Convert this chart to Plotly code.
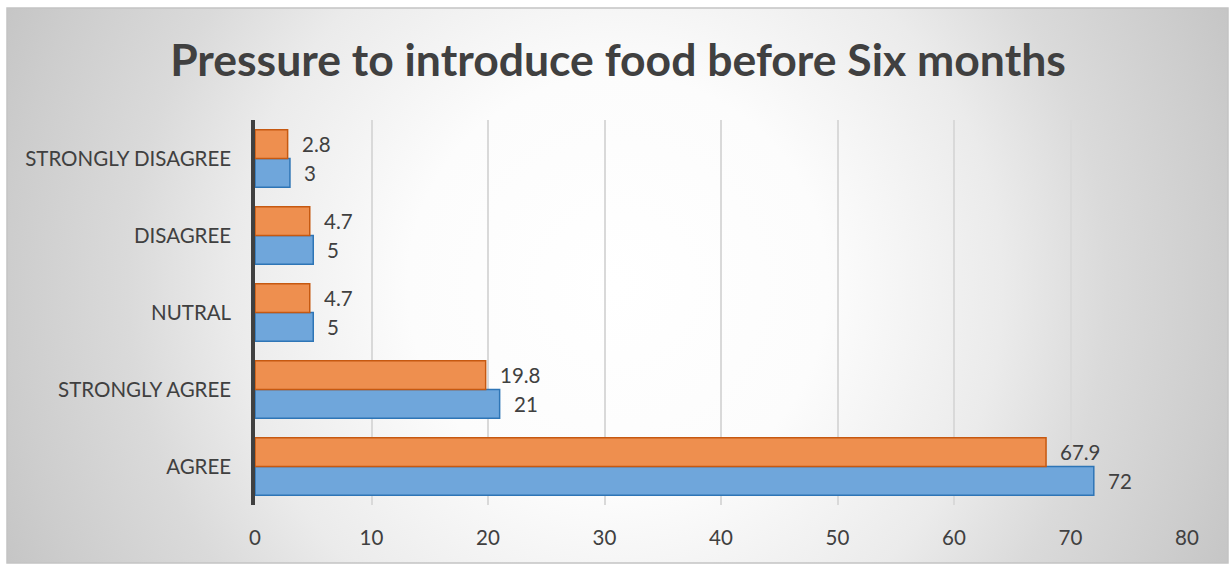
import base64
import plotly.graph_objects as go

# Survey responses, bottom to top
categories = ["AGREE", "STRONGLY AGREE", "NUTRAL", "DISAGREE", "STRONGLY DISAGREE"]
series_blue = [72, 21, 5, 5, 3]
series_orange = [67.9, 19.8, 4.7, 4.7, 2.8]
x_ticks = [0, 10, 20, 30, 40, 50, 60, 70, 80]

W, H = 1230, 564
ML, MR, MT, MB = 255, 43, 120, 59
BARGAP = 0.256

TEXT = "#404040"
FONT = "Lato"
FS = 20.5

fig = go.Figure()
fig.add_trace(go.Bar(
    y=categories, x=series_blue, orientation="h", name="blue",
    marker=dict(color="#6FA6DB", line=dict(color="#2E75B6", width=1.5)),
    hoverinfo="x+y",
))
fig.add_trace(go.Bar(
    y=categories, x=series_orange, orientation="h", name="orange",
    marker=dict(color="#EE8F4F", line=dict(color="#C65911", width=1.5)),
    hoverinfo="x+y",
))

# value labels just past the end of each bar
plot_h = H - MT - MB
band = plot_h / len(categories)
half = band * (1 - BARGAP) / 4
annotations = []
for cat, v in zip(categories, series_blue):
    annotations.append(dict(x=v, y=cat, xref="x", yref="y", text=f"{v:g}",
                            showarrow=False, xanchor="left", xshift=12, yshift=-half,
                            font=dict(family=FONT, size=FS, color=TEXT)))
for cat, v in zip(categories, series_orange):
    annotations.append(dict(x=v, y=cat, xref="x", yref="y", text=f"{v:g}",
                            showarrow=False, xanchor="left", xshift=12, yshift=half,
                            font=dict(family=FONT, size=FS, color=TEXT)))

# radial backdrop for the chart frame
fx0, fy0, fx1, fy1 = 7, 8, 1228, 563
fw, fh = fx1 - fx0, fy1 - fy0
svg = f'''<svg xmlns="http://www.w3.org/2000/svg" width="{fw}" height="{fh}" viewBox="0 0 {fw} {fh}" preserveAspectRatio="none">
<defs><radialGradient id="g" gradientUnits="userSpaceOnUse" cx="{fw/2}" cy="{fh/2}" r="700">
<stop offset="0" stop-color="#ffffff"/>
<stop offset="0.3" stop-color="#fcfcfc"/>
<stop offset="0.55" stop-color="#ebebeb"/>
<stop offset="0.7" stop-color="#dadada"/>
<stop offset="0.87" stop-color="#cdcdcd"/>
<stop offset="1" stop-color="#c2c2c2"/>
</radialGradient></defs>
<rect x="0" y="0" width="{fw}" height="{fh}" fill="url(#g)"/>
</svg>'''
src = "data:image/svg+xml;base64," + base64.b64encode(svg.encode()).decode()

pw = W - ML - MR
def px_to_paper_x(px):
    return (px - ML) / pw
def px_to_paper_y(py):
    return (H - MB - py) / plot_h

fig.add_layout_image(dict(
    source=src, xref="paper", yref="paper",
    x=px_to_paper_x(fx0), y=px_to_paper_y(fy0),
    sizex=fw / pw, sizey=fh / plot_h,
    xanchor="left", yanchor="top", sizing="stretch", layer="below",
))

fig.add_shape(type="rect", xref="paper", yref="paper",
              x0=px_to_paper_x(fx0), x1=px_to_paper_x(fx1),
              y0=px_to_paper_y(fy1), y1=px_to_paper_y(fy0),
              line=dict(color="#c4c4c4", width=1.5), layer="above")

fig.update_layout(
    width=W, height=H,
    margin=dict(l=ML, r=MR, t=MT, b=MB),
    paper_bgcolor="#ffffff", plot_bgcolor="rgba(0,0,0,0)",
    barmode="group", bargap=BARGAP, bargroupgap=0,
    showlegend=False,
    title=dict(text="<b>Pressure to introduce food before Six months</b>",
               x=618 / W, xanchor="center", y=1 - 60 / H, yanchor="middle",
               xref="container", yref="container",
               font=dict(family=FONT, size=44.5, color=TEXT)),
    annotations=annotations,
    xaxis=dict(range=[0, 80], tickvals=x_ticks, showgrid=True, gridcolor="#d9d9d9",
               gridwidth=1.5, zeroline=False, showline=False, ticks="",
               ticklabelstandoff=18, tickfont=dict(family=FONT, size=FS, color=TEXT),
               fixedrange=True),
    yaxis=dict(categoryorder="array", categoryarray=categories, showgrid=False,
               showline=True, linecolor=TEXT, linewidth=3.5, ticks="",
               ticklabelstandoff=16, tickfont=dict(family=FONT, size=FS, color=TEXT),
               fixedrange=True),
)

fig.write_html("out.html")
